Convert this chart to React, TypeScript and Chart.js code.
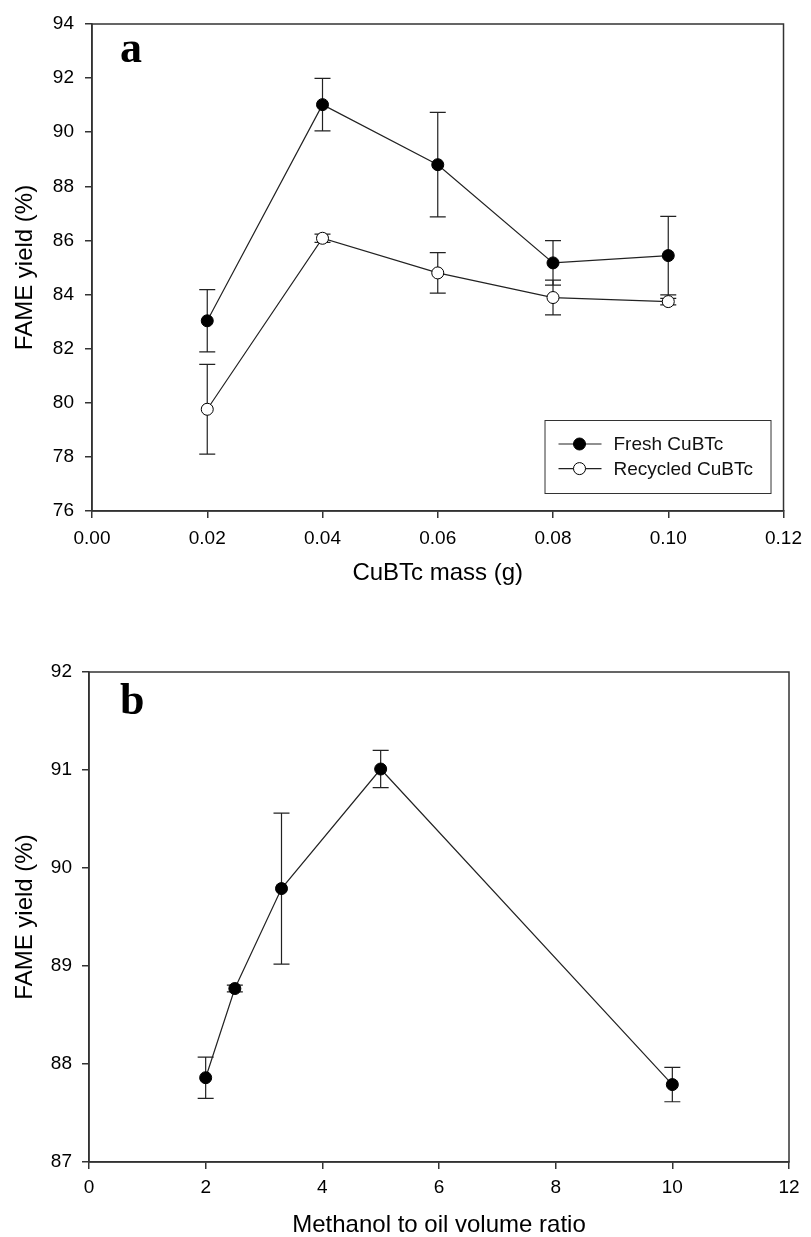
import React, { useEffect, useRef } from 'react';
import { Chart, registerables } from 'chart.js';

Chart.register(...registerables);

// ---------- Panel a data ----------
const massValues = [0.02, 0.04, 0.06, 0.08, 0.1];
const freshYield = [83.03, 91.02, 88.8, 85.17, 85.44];
const freshErr = [1.15, 0.97, 1.93, 0.82, 1.45];
const recycledYield = [79.76, 86.08, 84.8, 83.89, 83.74];
const recycledErr = [1.66, 0.15, 0.75, 0.64, 0.12];
const massTicks = [0, 0.02, 0.04, 0.06, 0.08, 0.1, 0.12];
const yieldTicksA = [76, 78, 80, 82, 84, 86, 88, 90, 92, 94];

// ---------- Panel b data ----------
const ratioValues = [2, 2.5, 3.3, 5, 10];
const ratioYield = [87.86, 88.77, 89.79, 91.01, 87.79];
const ratioErr = [0.21, 0.035, 0.77, 0.19, 0.175];
const ratioTicks = [0, 2, 4, 6, 8, 10, 12];
const yieldTicksB = [87, 88, 89, 90, 91, 92];

const SANS = "'Liberation Sans', Arial, sans-serif";
const SERIF = "'Liberation Serif', 'Times New Roman', serif";
const INK = '#222';
const AXIS = '#333';

const errorBarPlugin = {
  id: 'errorBars',
  beforeDatasetsDraw(chart: any) {
    const { ctx, scales } = chart;
    const xs = scales.x;
    const ys = scales.y;
    ctx.save();
    ctx.strokeStyle = INK;
    ctx.lineWidth = 1.2;
    chart.data.datasets.forEach((ds: any) => {
      if (!ds.errors) return;
      ds.data.forEach((p: any, i: number) => {
        const e = ds.errors[i];
        const x = xs.getPixelForValue(p.x);
        const yt = ys.getPixelForValue(p.y + e);
        const yb = ys.getPixelForValue(p.y - e);
        ctx.beginPath();
        ctx.moveTo(x, yt);
        ctx.lineTo(x, yb);
        ctx.moveTo(x - 8, yt);
        ctx.lineTo(x + 8, yt);
        ctx.moveTo(x - 8, yb);
        ctx.lineTo(x + 8, yb);
        ctx.stroke();
      });
    });
    ctx.restore();
  },
};

const framePlugin = {
  id: 'frameAndLetter',
  afterDraw(chart: any, _args: any, opts: any) {
    const { ctx, chartArea: ca } = chart;
    ctx.save();
    ctx.strokeStyle = AXIS;
    ctx.lineWidth = 1.5;
    ctx.strokeRect(ca.left, ca.top, ca.right - ca.left, ca.bottom - ca.top);
    if (opts && opts.letter) {
      ctx.fillStyle = '#000';
      ctx.font = `bold 44px ${SERIF}`;
      ctx.textBaseline = 'alphabetic';
      ctx.textAlign = 'left';
      ctx.fillText(opts.letter, ca.left + opts.dx, ca.top + opts.dy);
    }
    if (opts && opts.legend) {
      const bx = ca.right - 239;
      const by = ca.bottom - 91;
      ctx.lineWidth = 1;
      ctx.strokeStyle = AXIS;
      ctx.strokeRect(bx + 0.5, by + 0.5, 226, 73);
      const rows = [24, 48.6];
      chart.data.datasets.forEach((ds: any, i: number) => {
        const y = by + rows[i];
        ctx.strokeStyle = INK;
        ctx.lineWidth = 1.2;
        ctx.beginPath();
        ctx.moveTo(bx + 14, y);
        ctx.lineTo(bx + 57, y);
        ctx.stroke();
        ctx.beginPath();
        ctx.arc(bx + 35, y, 6, 0, Math.PI * 2);
        ctx.fillStyle = ds.pointBackgroundColor;
        ctx.fill();
        ctx.lineWidth = 1;
        ctx.strokeStyle = '#000';
        ctx.stroke();
        ctx.fillStyle = '#111';
        ctx.font = `19px ${SANS}`;
        ctx.textBaseline = 'middle';
        ctx.textAlign = 'left';
        ctx.fillText(ds.label, bx + 69, y + 1);
      });
    }
    ctx.restore();
  },
};

function makeDataset(label: string, xs: number[], ys: number[], errs: number[], fill: string) {
  return {
    label,
    data: xs.map((x, i) => ({ x, y: ys[i] })),
    errors: errs,
    borderColor: INK,
    borderWidth: 1.2,
    pointRadius: 6,
    pointHoverRadius: 6,
    pointBorderWidth: 1,
    pointBorderColor: '#000',
    pointBackgroundColor: fill,
    showLine: true,
    tension: 0,
  };
}

function buildOptions(p: any) {
  const tickFont = { family: SANS, size: 19 };
  const titleFont = { family: SANS, size: 24 };
  return {
    animation: false,
    responsive: false,
    devicePixelRatio: 1,
    layout: { padding: { left: 0, top: p.padTop, right: p.padRight, bottom: 0 } },
    plugins: {
      legend: { display: false },
      tooltip: { enabled: false },
      frameAndLetter: { letter: p.letter, dx: p.letterDx, dy: p.letterDy, legend: p.legend },
    },
    scales: {
      x: {
        type: 'linear',
        min: p.xTicks[0],
        max: p.xTicks[p.xTicks.length - 1],
        afterBuildTicks: (s: any) => {
          s.ticks = p.xTicks.map((v: number) => ({ value: v }));
        },
        afterFit: (s: any) => {
          s.height = p.xHeight;
        },
        ticks: {
          autoSkip: false,
          maxRotation: 0,
          padding: p.xTickPad,
          color: '#000',
          font: tickFont,
          callback: (v: any) => p.xFmt(Number(v)),
        },
        grid: { display: true, drawOnChartArea: false, drawTicks: true, tickLength: 7, color: AXIS, lineWidth: 1.5 },
        border: { display: true, color: AXIS, width: 1.5 },
        title: { display: true, text: p.xTitle, color: '#000', font: titleFont, padding: { top: 0, bottom: p.xTitlePad } },
      },
      y: {
        type: 'linear',
        min: p.yTicks[0],
        max: p.yTicks[p.yTicks.length - 1],
        afterBuildTicks: (s: any) => {
          s.ticks = p.yTicks.map((v: number) => ({ value: v }));
        },
        afterFit: (s: any) => {
          s.width = p.yWidth;
        },
        ticks: { padding: p.yTickPad, color: '#000', font: tickFont, callback: (v: any) => String(v) },
        grid: { display: true, drawOnChartArea: false, drawTicks: true, tickLength: 7, color: AXIS, lineWidth: 1.5 },
        border: { display: true, color: AXIS, width: 1.5 },
        title: { display: true, text: 'FAME yield (%)', color: '#000', font: titleFont, padding: { top: 10.5, bottom: 0 } },
      },
    },
  };
}

export default function App() {
  const refA = useRef<HTMLCanvasElement | null>(null);
  const refB = useRef<HTMLCanvasElement | null>(null);

  useEffect(() => {
    const chartA = new Chart(refA.current as HTMLCanvasElement, {
      type: 'scatter',
      data: {
        datasets: [
          makeDataset('Fresh CuBTc', massValues, freshYield, freshErr, '#000'),
          makeDataset('Recycled CuBTc', massValues, recycledYield, recycledErr, '#fff'),
        ],
      },
      options: buildOptions({
        padTop: 24,
        padRight: 19,
        xHeight: 89,
        yWidth: 92,
        xTicks: massTicks,
        yTicks: yieldTicksA,
        xFmt: (v: number) => v.toFixed(2),
        xTickPad: 9,
        yTickPad: 11,
        xTitle: 'CuBTc mass (g)',
        xTitlePad: 12.5,
        letter: 'a',
        letterDx: 28,
        letterDy: 37.5,
        legend: true,
      }) as any,
      plugins: [errorBarPlugin, framePlugin],
    } as any);

    const chartB = new Chart(refB.current as HTMLCanvasElement, {
      type: 'scatter',
      data: {
        datasets: [makeDataset('FAME yield', ratioValues, ratioYield, ratioErr, '#000')],
      },
      options: buildOptions({
        padTop: 72,
        padRight: 22,
        xHeight: 98,
        yWidth: 89,
        xTicks: ratioTicks,
        yTicks: yieldTicksB,
        xFmt: (v: number) => String(v),
        xTickPad: 7,
        yTickPad: 10,
        xTitle: 'Methanol to oil volume ratio',
        xTitlePad: 20.5,
        letter: 'b',
        letterDx: 31,
        letterDy: 42,
        legend: false,
      }) as any,
      plugins: [errorBarPlugin, framePlugin],
    } as any);

    return () => {
      chartA.destroy();
      chartB.destroy();
    };
  }, []);

  return (
    <div
      style={{
        position: 'absolute',
        left: 0,
        top: 0,
        width: 811,
        height: 1237,
        overflow: 'hidden',
        background: '#fff',
      }}
    >
      <canvas ref={refA} width={811} height={600} style={{ position: 'absolute', left: 0, top: 0, width: 811, height: 600 }} />
      <canvas ref={refB} width={811} height={660} style={{ position: 'absolute', left: 0, top: 600, width: 811, height: 660 }} />
    </div>
  );
}
